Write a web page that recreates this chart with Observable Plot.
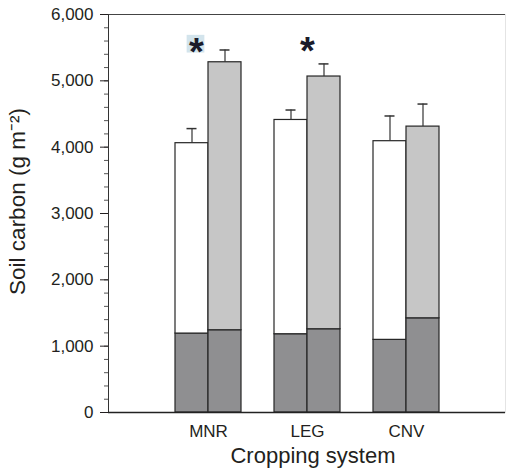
<!DOCTYPE html>
<html><head><meta charset="utf-8">
<script src="https://cdn.jsdelivr.net/npm/d3@7"></script>
<script src="https://cdn.jsdelivr.net/npm/@observablehq/plot@0.6"></script>
<style>body{margin:0;background:#fff;}</style>
</head><body><div id="chart"></div>
<script>
// Data
const systems = ["MNR", "LEG", "CNV"];
const seriesNames = ["Series A", "Series B"];           // left (white) and right (grey) bars
const baseA  = [1190, 1180, 1095];   // dark bottom segment, left bar
const totalA = [4060, 4410, 4090];   // total, left bar
const errA   = [220, 150, 380];
const baseB  = [1240, 1255, 1420];   // dark bottom segment, right bar
const totalB = [5280, 5065, 4310];
const errB   = [185, 190, 340];
const sigSystems = ["MNR", "LEG"];
const sigY = [5560, 5575];
const yTicks = [0, 1000, 2000, 3000, 4000, 5000, 6000];
const yMinorTicks = d3.range(0, 6001, 200);

const rowsA = systems.map((s, i) => ({system: s, series: seriesNames[0], base: baseA[i], total: totalA[i], err: errA[i]}));
const rowsB = systems.map((s, i) => ({system: s, series: seriesNames[1], base: baseB[i], total: totalB[i], err: errB[i]}));
const sig = sigSystems.map((s, i) => ({system: s, y: sigY[i]}));

const half = 33;      // half of band width
const off = 16.5;     // centre of each half-bar
const dark = "#8f8f91", light = "#c6c6c6", edge = "#262626";

const chart = Plot.plot({
  width: 506, height: 469,
  marginLeft: 108, marginRight: 1, marginTop: 14, marginBottom: 57,
  style: {fontFamily: "Liberation Sans, Arial, sans-serif", background: "#fff"},
  x: {domain: systems, paddingInner: 0.337, paddingOuter: 0.663},
  y: {domain: [0, 6000]},
  marks: [
    Plot.frame({anchor: "top", stroke: "#444"}),
    Plot.frame({anchor: "right", stroke: "#e4e4e4"}),
    Plot.axisY(yMinorTicks, {tickSize: 4, tickFormat: () => "", label: null, stroke: "#555"}),
    Plot.axisY(yTicks, {tickSize: 8, tickPadding: 7, tickFormat: d3.format(","), fontSize: 17, label: null, color: "#231f20"}),
    Plot.axisX({tickSize: 0, tickPadding: 12, fontSize: 17, label: null, color: "#231f20"}),
    // left bars
    Plot.barY(rowsA, {x: "system", y1: 0, y2: "base", fill: dark, stroke: edge, strokeWidth: 1.2, insetRight: half}),
    Plot.barY(rowsA, {x: "system", y1: "base", y2: "total", fill: "#fff", stroke: edge, strokeWidth: 1.2, insetRight: half}),
    // right bars
    Plot.barY(rowsB, {x: "system", y1: 0, y2: "base", fill: dark, stroke: edge, strokeWidth: 1.2, insetLeft: half}),
    Plot.barY(rowsB, {x: "system", y1: "base", y2: "total", fill: light, stroke: edge, strokeWidth: 1.2, insetLeft: half}),
    // error bars
    Plot.ruleX(rowsA, {x: "system", y1: "total", y2: d => d.total + d.err, dx: -off, stroke: "#333", strokeWidth: 1.2}),
    Plot.tickY(rowsA, {x: "system", y: d => d.total + d.err, dx: -off, inset: 28, stroke: "#333", strokeWidth: 1.5}),
    Plot.ruleX(rowsB, {x: "system", y1: "total", y2: d => d.total + d.err, dx: off, stroke: "#333", strokeWidth: 1.2}),
    Plot.tickY(rowsB, {x: "system", y: d => d.total + d.err, dx: off, inset: 28, stroke: "#333", strokeWidth: 1.5}),
    // axes lines
    Plot.frame({anchor: "left", stroke: "#333"}),
    Plot.ruleY([0], {stroke: "#222", strokeWidth: 1.5}),
    // significance markers
    Plot.dot(sig.slice(0, 1), {x: "system", y: "y", dx: -13, symbol: "square", r: 10, fill: "#d3e4ec", stroke: "none"}),
    Plot.text(sig.slice(0, 1), {x: "system", y: "y", dx: -12, text: () => "*", fontSize: 38, fontWeight: "bold", fill: "#1b1b2a", dy: 9}),
    Plot.text(sig.slice(1), {x: "system", y: "y", text: () => "*", fontSize: 38, fontWeight: "bold", fill: "#1b1b2a", dy: 9}),
    // titles
    Plot.text(["Soil carbon (g m\u207B\u00B2)"], {frameAnchor: "left", textAnchor: "middle", rotate: -90, dx: -91, dy: -12, fontSize: 22.5, fill: "#231f20"}),
    Plot.text(["Cropping system"], {frameAnchor: "bottom", dy: 50, dx: 6, fontSize: 22, fill: "#231f20"})
  ]
});
document.getElementById("chart").appendChild(chart);
</script>
</body></html>
